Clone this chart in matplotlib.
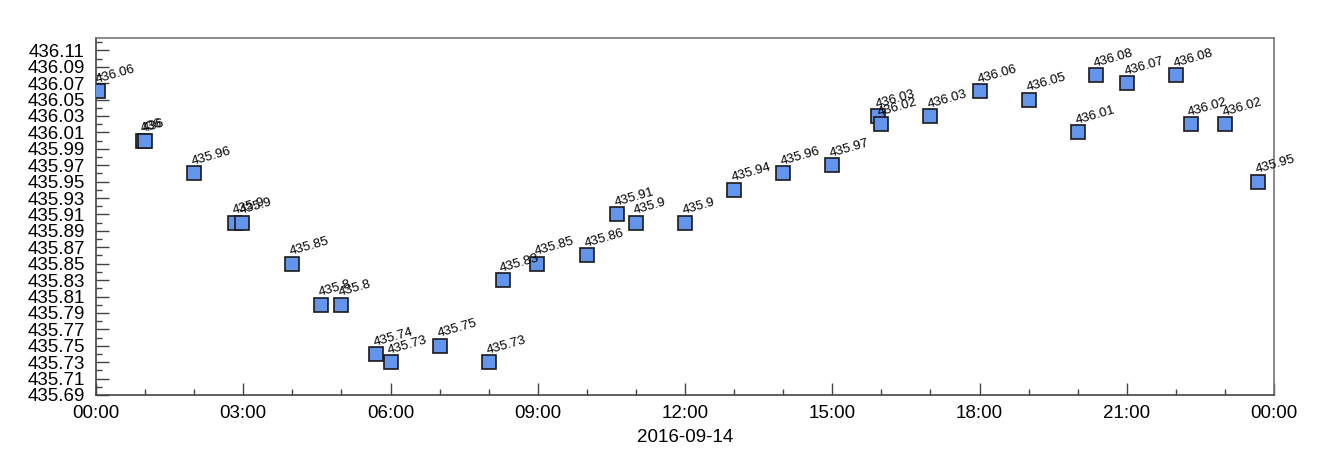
import datetime as dt
import numpy as np
import matplotlib
matplotlib.use("Agg")
import matplotlib.pyplot as plt
import matplotlib.dates as mdates
from matplotlib.ticker import MultipleLocator, FixedLocator, FuncFormatter

plt.rcParams['font.family'] = ['Liberation Sans', 'DejaVu Sans']

# times of day (hh:mm) on 2016-09-14, and the measured values
times = ["00:03", "00:57", "01:00", "02:00", "02:50", "02:59", "04:00", "04:35",
         "04:59", "05:42", "06:00", "07:00", "08:00", "08:17", "08:59", "10:00",
         "10:37", "11:00", "12:00", "13:00", "14:00", "15:00", "15:56", "15:59",
         "17:00", "18:01", "19:01", "20:00", "20:22", "21:00", "22:00", "22:18",
         "23:00", "23:40"]
values = [436.06, 436.0, 436.0, 435.96, 435.9, 435.9, 435.85, 435.8,
          435.8, 435.74, 435.73, 435.75, 435.73, 435.83, 435.85, 435.86,
          435.91, 435.9, 435.9, 435.94, 435.96, 435.97, 436.03, 436.02,
          436.03, 436.06, 436.05, 436.01, 436.08, 436.07, 436.08, 436.02,
          436.02, 435.95]
day = dt.datetime(2016, 9, 14)
ytick_labels = [round(435.69 + 0.02 * i, 2) for i in range(22)]

dates = [day + dt.timedelta(hours=int(t[:2]), minutes=int(t[3:])) for t in times]

fig = plt.figure(figsize=(13.31, 4.70), dpi=100)
ax = fig.add_axes([96 / 1331, 1 - 395 / 470, (1274 - 96) / 1331, (395 - 38) / 470])

ax.plot(dates, values, linestyle='none', marker='s', markersize=10,
        markerfacecolor='#6495ED', markeredgecolor='#1a1a1a', markeredgewidth=1.2,
        zorder=3)

for d, v in zip(dates, values):
    ax.annotate('%g' % v, (mdates.date2num(d), v), xytext=(-1, 6),
                textcoords='offset points', fontsize=9.5, rotation=16,
                rotation_mode='anchor', ha='left', va='baseline', zorder=4)

ax.set_xlim(day, day + dt.timedelta(days=1))
ax.set_ylim(435.69, 436.125)

ax.xaxis.set_major_locator(mdates.HourLocator(byhour=range(0, 24, 3)))
ax.xaxis.set_minor_locator(mdates.HourLocator())
ax.xaxis.set_major_formatter(mdates.DateFormatter('%H:%M'))
ax.yaxis.set_major_locator(FixedLocator(ytick_labels))
ax.yaxis.set_minor_locator(MultipleLocator(0.01))
ax.yaxis.set_major_formatter(FuncFormatter(lambda v, p: '%.2f' % v))

for s in ax.spines.values():
    s.set_color('#777777')
    s.set_linewidth(1.2)
ax.spines['left'].set_color('#444444')
ax.spines['bottom'].set_color('#444444')

ax.tick_params(axis='both', which='major', direction='in', length=9, width=1,
               color='#444444', labelsize=13.5)
ax.tick_params(axis='both', which='minor', direction='in', length=4, width=1,
               color='#444444')
ax.tick_params(axis='y', which='both', pad=8)
ax.tick_params(axis='x', which='both', pad=7)

ax.set_xlabel('2016-09-14', fontsize=13.5, labelpad=5)

fig.savefig('out.png', dpi=100)
